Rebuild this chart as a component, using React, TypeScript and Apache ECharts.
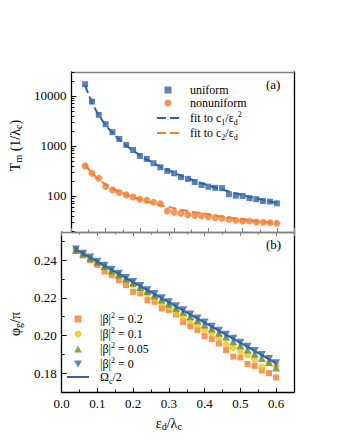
import React, { useEffect, useRef } from "react";
import * as echarts from "echarts";

const FONT = "Liberation Serif";

// x values (ε_d/λ_c)
const xs = [0.04, 0.06, 0.08, 0.10, 0.12, 0.14, 0.16, 0.18, 0.20, 0.22, 0.24, 0.26, 0.28, 0.30,
  0.32, 0.34, 0.36, 0.38, 0.40, 0.42, 0.44, 0.46, 0.48, 0.50, 0.52, 0.54, 0.56, 0.58, 0.60];

// panel (a)
const uniform = [17100, 7700, 4170, 2710, 1880, 1380, 1050, 830, 630, 550, 450, 374, 316, 284,
  237, 219, 190, 166, 153, 145, 143, 108, 101, 100, 90, 86, 79, 77, 71];
const nonuniform = [398, 284, 226, 154, 132, 117, 105, 95, 86, 82, 75, 70, 50, 47,
  45, 42, 41, 40, 38.5, 36.8, 35.8, 34.2, 32.7, 31.6, 31.6, 30.2, 29.8, 29.2, 28.4];
const fit1 = [16250, 7222, 4063, 2600, 1806, 1327, 1016, 802, 650, 537, 451, 385, 332, 289,
  254, 225, 201, 180, 163, 147, 134, 123, 113, 104, 96, 89, 83, 77, 72];
const fit2 = [425, 283, 213, 170, 142, 121, 106, 94, 85, 77, 71, 65, 61, 57,
  53, 50, 47, 45, 43, 40, 39, 37, 35, 34, 33, 31, 30, 29, 28];

// panel (b)
const beta02 = [0.2449, 0.2426, 0.2400, 0.2374, 0.2340, 0.2321, 0.2294, 0.2268, 0.2232, 0.2224, 0.2188, 0.2179, 0.2144, 0.2135,
  0.2112, 0.2072, 0.2050, 0.2029, 0.1997, 0.1981, 0.1958, 0.1923, 0.1888, 0.1884, 0.1849, 0.1839, 0.1814, 0.1800, 0.1777];
const beta01 = [0.2455, 0.2432, 0.2409, 0.2386, 0.2362, 0.2340, 0.2316, 0.2292, 0.2268, 0.2246, 0.2222, 0.2198, 0.2172, 0.2150,
  0.2123, 0.2100, 0.2079, 0.2056, 0.2029, 0.2012, 0.1991, 0.1953, 0.1936, 0.1918, 0.1897, 0.1874, 0.1832, 0.1858, 0.1842];
const beta005 = [0.2456, 0.2434, 0.2412, 0.2390, 0.2368, 0.2346, 0.2324, 0.2302, 0.2280, 0.2258, 0.2236, 0.2214, 0.2192, 0.2170,
  0.2147, 0.2126, 0.2103, 0.2081, 0.2059, 0.2037, 0.2015, 0.1993, 0.1970, 0.1949, 0.1926, 0.1903, 0.1880, 0.1858, 0.1830];
const beta0 = [0.2457, 0.2435, 0.2414, 0.2392, 0.2371, 0.2349, 0.2328, 0.2306, 0.2284, 0.2263, 0.2241, 0.2220, 0.2198, 0.2177,
  0.2155, 0.2134, 0.2112, 0.2090, 0.2069, 0.2047, 0.2026, 0.2004, 0.1983, 0.1961, 0.1940, 0.1918, 0.1896, 0.1875, 0.1853];
const omegaHalf = [0.2457, 0.2435, 0.2414, 0.2392, 0.2371, 0.2349, 0.2328, 0.2306, 0.2284, 0.2263, 0.2241, 0.2220, 0.2198, 0.2177,
  0.2155, 0.2134, 0.2112, 0.2090, 0.2069, 0.2047, 0.2026, 0.2004, 0.1983, 0.1961, 0.1940, 0.1918, 0.1896, 0.1875, 0.1853];

// ticks
const logMajor = [100, 1000, 10000];
const logMinor = [20, 30, 40, 50, 60, 70, 80, 90, 200, 300, 400, 500, 600, 700, 800, 900,
  2000, 3000, 4000, 5000, 6000, 7000, 8000, 9000, 20000, 30000];
const phiMajor = [0.18, 0.2, 0.22, 0.24];
const phiMinor = [0.17, 0.19, 0.21, 0.23, 0.25];

const BLUE = "#2f63a4";
const ORANGE = "#f47a2c";
const YELLOW = "#ecc31d";
const GREEN = "#6c8b2e";
const BLUE2 = "#3269ab";
const GRAY = "#808080";

const ICON_SQUARE = "path://M0,0h10v10h-10z";
const ICON_UP = "path://M5,0L10,9L0,9z";
const ICON_DOWN = "path://M0,0L10,0L5,9z";
const ICON_DASH = "path://M0,0h9v2h-9z M13,0h9v2h-9z";
const ICON_LINE = "path://M0,0h22v2h-22z";

const zip = (a: number[], b: number[]) => a.map((x, i) => [x, b[i]]);

const rich = (size: number) => ({
  n: { fontSize: size, fontFamily: FONT, lineHeight: 16, color: "#000" },
  s: { fontSize: Math.round(size * 0.68), fontFamily: FONT, lineHeight: 9, verticalAlign: "bottom", color: "#000" },
  p: { fontSize: Math.round(size * 0.68), fontFamily: FONT, lineHeight: 9, verticalAlign: "top", color: "#000" },
});

const legendA: Record<string, string> = {
  uniform: "{n|uniform}",
  nonuniform: "{n|nonuniform}",
  fit1: "{n|fit to c}{s|1}{n|/ε}{s|d}{p|2}",
  fit2: "{n|fit to c}{s|2}{n|/ε}{s|d}",
};
const legendB: Record<string, string> = {
  b02: "{n||β|}{p|2}{n| = 0.2}",
  b01: "{n||β|}{p|2}{n| = 0.1}",
  b005: "{n||β|}{p|2}{n| = 0.05}",
  b0: "{n||β|}{p|2}{n| = 0}",
  om: "{n|Ω}{s|c}{n|/2}",
};

const labelStyle = { color: "#000", fontFamily: FONT, fontSize: 13 };

const xBase = (grid: number, pos: string, color: string, ticks: boolean, labels: boolean) => ({
  type: "value",
  gridIndex: grid,
  position: pos,
  min: 0,
  max: 0.65,
  interval: 0.1,
  splitLine: { show: false },
  axisLine: { show: true, onZero: false, lineStyle: { color, width: 1.3 } },
  axisTick: { show: ticks, inside: true, length: 4, lineStyle: { color, width: 1 } },
  minorTick: { show: ticks, splitNumber: 2, length: 2.5, lineStyle: { color, width: 1 } },
  axisLabel: {
    show: labels,
    ...labelStyle,
    margin: 5,
    showMaxLabel: false,
    formatter: (v: number) => v.toFixed(1),
  },
});

const option: any = {
  animation: false,
  backgroundColor: "#fff",
  textStyle: { fontFamily: FONT },
  grid: [
    { left: 54, top: 72, width: 240, height: 160 },
    { left: 54, top: 232, width: 240, height: 160 },
  ],
  xAxis: [
    xBase(0, "bottom", GRAY, true, false),
    xBase(0, "top", GRAY, false, false),
    {
      ...xBase(1, "bottom", "#000", true, true),
      name: "{n|ε}{s|d}{n|/λ}{s|c}",
      nameLocation: "middle",
      nameGap: 23,
      nameTextStyle: { rich: rich(14), padding: [0, 18, 0, 0] },
    },
    xBase(1, "top", GRAY, true, false),
  ],
  yAxis: [
    {
      type: "log",
      gridIndex: 0,
      position: "left",
      min: 19,
      max: 30000,
      splitLine: { show: false },
      axisLine: { show: true, onZero: false, lineStyle: { color: "#000", width: 1.3 } },
      axisTick: { show: true, inside: true, length: 5, customValues: logMajor, lineStyle: { color: "#000" } },
      axisLabel: { ...labelStyle, margin: 5, customValues: logMajor, formatter: (v: number) => String(Math.round(v)) },
      name: "{n|T}{s|m}{n| (1/λ}{s|c}{n|)}",
      nameLocation: "middle",
      nameRotate: 90,
      nameGap: 33,
      nameTextStyle: { rich: rich(14), padding: [0, 0, 0, 13] },
    },
    {
      type: "log",
      gridIndex: 0,
      position: "left",
      min: 19,
      max: 30000,
      splitLine: { show: false },
      axisLine: { show: false, onZero: false },
      axisTick: { show: true, inside: true, length: 3, customValues: logMinor, lineStyle: { color: "#000" } },
      axisLabel: { show: false },
    },
    {
      type: "log",
      gridIndex: 0,
      position: "right",
      min: 19,
      max: 30000,
      splitLine: { show: false },
      axisLine: { show: true, onZero: false, lineStyle: { color: "#000", width: 1.3 } },
      axisTick: { show: false },
      axisLabel: { show: false },
    },
    {
      type: "value",
      gridIndex: 1,
      position: "left",
      min: 0.17,
      max: 0.255,
      splitLine: { show: false },
      axisLine: { show: true, onZero: false, lineStyle: { color: "#000", width: 1.3 } },
      axisTick: { show: true, inside: true, length: 5, customValues: phiMajor, lineStyle: { color: "#000" } },
      axisLabel: { ...labelStyle, margin: 5, customValues: phiMajor, formatter: (v: number) => v.toFixed(2) },
      name: "{n|φ}{s|g}{n|/π}",
      nameLocation: "middle",
      nameRotate: 90,
      nameGap: 33,
      nameTextStyle: { rich: rich(14), padding: [0, 24, 0, 0] },
    },
    {
      type: "value",
      gridIndex: 1,
      position: "left",
      min: 0.17,
      max: 0.255,
      splitLine: { show: false },
      axisLine: { show: false, onZero: false },
      axisTick: { show: true, inside: true, length: 3, customValues: phiMinor, lineStyle: { color: "#000" } },
      axisLabel: { show: false },
    },
    {
      type: "value",
      gridIndex: 1,
      position: "right",
      min: 0.17,
      max: 0.255,
      splitLine: { show: false },
      axisLine: { show: true, onZero: false, lineStyle: { color: "#000", width: 1.3 } },
      axisTick: { show: false },
      axisLabel: { show: false },
    },
  ],
  legend: [
    {
      orient: "vertical",
      left: 152,
      top: 79,
      itemGap: 1,
      itemWidth: 22,
      itemHeight: 7,
      selectedMode: false,
      symbolKeepAspect: true,
      data: [
        { name: "uniform", icon: ICON_SQUARE },
        { name: "nonuniform", icon: "circle" },
        { name: "fit1", icon: ICON_DASH },
        { name: "fit2", icon: ICON_DASH },
      ],
      formatter: (name: string) => legendA[name],
      textStyle: { rich: rich(12), padding: [0, 0, 0, 6] },
    },
    {
      orient: "vertical",
      left: 62,
      top: 306,
      itemGap: 1,
      itemWidth: 22,
      itemHeight: 7,
      selectedMode: false,
      symbolKeepAspect: true,
      data: [
        { name: "b02", icon: ICON_SQUARE },
        { name: "b01", icon: "circle" },
        { name: "b005", icon: ICON_UP },
        { name: "b0", icon: ICON_DOWN },
        { name: "om", icon: ICON_LINE },
      ],
      formatter: (name: string) => legendB[name],
      textStyle: { rich: rich(12), padding: [0, 0, 0, 6] },
    },
  ],
  graphic: [
    { type: "text", left: 266, top: 78, style: { text: "(a)", font: `13px ${FONT}`, fill: "#000" } },
    { type: "text", left: 266, top: 238, style: { text: "(b)", font: `13px ${FONT}`, fill: "#000" } },
  ],
  series: [
    { name: "uniform", type: "scatter", xAxisIndex: 0, yAxisIndex: 0, symbol: "rect", symbolSize: 6,
      itemStyle: { color: BLUE }, data: zip(xs, uniform) },
    { name: "nonuniform", type: "scatter", xAxisIndex: 0, yAxisIndex: 0, symbol: "circle", symbolSize: 7,
      itemStyle: { color: ORANGE }, data: zip(xs, nonuniform) },
    { name: "fit1", type: "line", xAxisIndex: 0, yAxisIndex: 0, symbol: "none",
      lineStyle: { color: BLUE, width: 2, type: [8, 4] }, itemStyle: { color: BLUE }, data: zip(xs, fit1) },
    { name: "fit2", type: "line", xAxisIndex: 0, yAxisIndex: 0, symbol: "none",
      lineStyle: { color: ORANGE, width: 2, type: [8, 4] }, itemStyle: { color: ORANGE }, data: zip(xs, fit2) },

    { name: "b02", type: "scatter", xAxisIndex: 2, yAxisIndex: 3, symbol: "rect", symbolSize: 6,
      itemStyle: { color: ORANGE }, data: zip(xs, beta02) },
    { name: "b01", type: "scatter", xAxisIndex: 2, yAxisIndex: 3, symbol: "circle", symbolSize: 7,
      itemStyle: { color: YELLOW }, data: zip(xs, beta01) },
    { name: "b005", type: "scatter", xAxisIndex: 2, yAxisIndex: 3, symbol: "triangle", symbolSize: 8,
      itemStyle: { color: GREEN }, data: zip(xs, beta005) },
    { name: "b0", type: "scatter", xAxisIndex: 2, yAxisIndex: 3, symbol: "triangle", symbolRotate: 180, symbolSize: 8,
      itemStyle: { color: BLUE2 }, data: zip(xs, beta0) },
    { name: "om", type: "line", xAxisIndex: 2, yAxisIndex: 3, symbol: "none",
      lineStyle: { color: BLUE, width: 2 }, itemStyle: { color: BLUE }, data: zip(xs, omegaHalf) },
  ],
};

export default function App() {
  const ref = useRef<HTMLDivElement>(null);
  useEffect(() => {
    if (!ref.current) return;
    const chart = echarts.init(ref.current, null, { renderer: "svg" });
    chart.setOption(option);
    return () => chart.dispose();
  }, []);
  return (
    <div
      ref={ref}
      style={{ position: "fixed", left: 0, top: 0, width: 340, height: 440, background: "#fff" }}
    />
  );
}
